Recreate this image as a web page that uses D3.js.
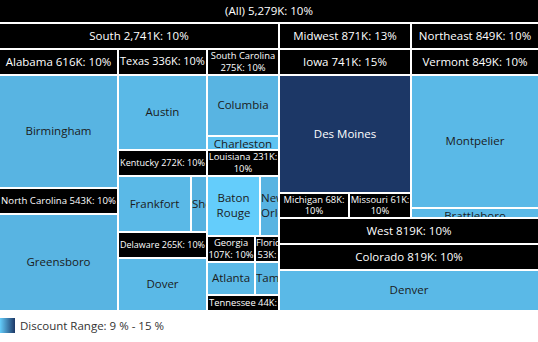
<!DOCTYPE html>
<html>
<head>
<meta charset="utf-8">
<script src="https://cdnjs.cloudflare.com/ajax/libs/d3/7.8.5/d3.min.js"></script>
<style>
  body { margin: 0; background: #fff; }
  text { font-family: "Open Sans", sans-serif; }
</style>
</head>
<body>
<div id="chart"></div>
<script>
// values (sales in K, discount in %)
var allSales = 5279;
var allDiscount = 10;

var regions = ["South", "Midwest", "Northeast", "West"];
var regionSales = [2741, 871, 849, 819];
var regionDiscount = [10, 13, 10, 10];

var states = ["Alabama", "North Carolina", "Texas", "South Carolina", "Kentucky", "Delaware",
              "Louisiana", "Georgia", "Florida", "Tennessee", "Iowa", "Michigan", "Missouri",
              "Vermont", "Colorado"];
var stateRegion = ["South", "South", "South", "South", "South", "South",
                   "South", "South", "South", "South", "Midwest", "Midwest", "Midwest",
                   "Northeast", "West"];
var stateSales = [616, 543, 336, 275, 272, 265, 231, 107, 53, 44, 741, 68, 61, 849, 819];
var stateDiscount = [10, 10, 10, 10, 10, 10, 10, 10, 10, 10, 15, 10, 10, 10, 10];

var cities = ["Birmingham", "Greensboro", "Austin", "Columbia", "Charleston", "Frankfort",
              "Shelbyville", "Dover", "Baton Rouge", "New Orleans", "Atlanta", "Tampa",
              "Des Moines", "Montpelier", "Brattleboro", "Denver"];
var cityState = ["Alabama", "North Carolina", "Texas", "South Carolina", "South Carolina", "Kentucky",
                 "Kentucky", "Delaware", "Louisiana", "Louisiana", "Georgia", "Florida",
                 "Iowa", "Vermont", "Vermont", "Colorado"];
var citySales = [616, 543, 336, 223, 52, 223, 49, 265, 168, 63, 107, 53, 741, 789, 60, 819];
var cityDiscount = [10.0, 10.0, 9.8, 10.0, 9.4, 9.8, 10.1, 9.8, 9.0, 10.0, 9.8, 10.0, 15.0, 9.8, 9.8, 9.8];

var discountRange = [9, 15];

function init() {
    var w = 538;
    var h = 310;

    var svg = d3.select("#chart")
        .append("svg")
        .attr("width", 538)
        .attr("height", 342);

    // build the tree from the arrays
    var tree = {name: "(All)", sales: allSales, discount: allDiscount, children: []};
    regions.forEach(function(r, i) {
        var reg = {name: r, sales: regionSales[i], discount: regionDiscount[i], children: []};
        states.forEach(function(s, j) {
            if (stateRegion[j] != r) return;
            var st = {name: s, sales: stateSales[j], discount: stateDiscount[j]};
            var kids = [];
            cities.forEach(function(c, k) {
                if (cityState[k] == s) kids.push({name: c, sales: citySales[k], discount: cityDiscount[k], city: true});
            });
            if (kids.length) st.children = kids;
            reg.children.push(st);
        });
        tree.children.push(reg);
    });

    var root = d3.hierarchy(tree)
        .sum(function(d) { return d.children ? 0 : d.sales; })
        .sort(function(a, b) { return b.value - a.value; });

    var headerH = [22, 24, 24];

    d3.treemap()
        .size([w, h])
        .tile(d3.treemapSquarify.ratio(1.3))
        .paddingTop(function(d) { return headerH[d.depth] + 2; })
        .paddingInner(2)
        .round(true)(root);

    var color = d3.scaleLinear()
        .domain(discountRange)
        .range(["#64cdfb", "#1c3766"]);

    // hidden text used to measure label widths
    var meas = svg.append("text").attr("x", -1000).attr("y", -1000);
    function textW(s, fs) {
        meas.attr("font-size", fs).text(s);
        return meas.node().getComputedTextLength();
    }
    function wrap(s, width, fs) {
        var words = s.split(" ");
        var lines = [];
        var cur = "";
        words.forEach(function(wd) {
            var t = cur ? cur + " " + wd : wd;
            if (cur && textW(t, fs) > width) {
                lines.push(cur);
                cur = wd;
            } else {
                cur = t;
            }
        });
        if (cur) lines.push(cur);
        return lines;
    }

    function label(d) {
        if (d.data.city) return d.data.name;
        return d.data.name + " " + d3.format(",")(d.data.sales) + "K: " + d.data.discount + "%";
    }

    var nodes = root.descendants();
    nodes.forEach(function(d, i) {
        var bw = d.x1 - d.x0;
        var bh = d.y1 - d.y0;
        if (bw <= 0 || bh <= 0) return;
        var isCity = d.data.city;
        var rh = isCity ? bh : Math.min(headerH[d.depth], bh);
        var fill = isCity ? color(d.data.discount) : "#000";
        var txtFill = isCity ? (d.data.discount > 12 ? "#fff" : "#1b1b1b") : "#fff";

        svg.append("rect")
            .attr("x", d.x0)
            .attr("y", d.y0)
            .attr("width", bw)
            .attr("height", rh)
            .attr("fill", fill);

        svg.append("clipPath")
            .attr("id", "clip" + i)
            .append("rect")
            .attr("x", d.x0)
            .attr("y", d.y0)
            .attr("width", bw)
            .attr("height", rh);

        // fit the label: shrink headers a bit, else wrap
        var s = label(d);
        var fs = 11.5;
        var lines;
        var tw = textW(s, fs);
        if (tw <= bw - 2) {
            lines = [s];
        } else if (!isCity && fs * (bw - 2) / tw >= 8.8) {
            fs = fs * (bw - 2) / tw;
            lines = [s];
        } else {
            if (!isCity) fs = 9.4;
            lines = wrap(s, isCity ? bw - 2 : bw + 1, fs);
        }
        var lh = isCity ? fs * 1.3 : fs * 1.2;
        var blockH = lines.length * lh;
        var top;
        if (blockH <= rh) top = d.y0 + (rh - blockH) / 2;
        else if (isCity) top = d.y0;
        else top = d.y0 + (rh - lh * Math.max(1, Math.floor((rh + 4) / lh))) / 2;

        var g = svg.append("g").attr("clip-path", "url(#clip" + i + ")");
        lines.forEach(function(ln, k) {
            var base = top + k * lh + lh * 0.76;
            if (base - fs * 0.72 > d.y0 + rh) return; // fully hidden line
            var lw = textW(ln, fs);
            var fits = lw <= bw;
            g.append("text")
                .text(ln)
                .attr("x", fits ? (d.x0 + d.x1) / 2 : d.x0)
                .attr("y", base)
                .attr("text-anchor", fits ? "middle" : "start")
                .attr("font-size", fs)
                .attr("fill", txtFill);
        });
    });
    meas.remove();

    // legend
    var grad = svg.append("defs").append("linearGradient").attr("id", "legGrad");
    grad.append("stop").attr("offset", "0%").attr("stop-color", color(discountRange[0]));
    grad.append("stop").attr("offset", "100%").attr("stop-color", color(discountRange[1]));

    svg.append("rect")
        .attr("x", 0)
        .attr("y", 318)
        .attr("width", 15)
        .attr("height", 15)
        .attr("fill", "url(#legGrad)");

    svg.append("text")
        .text("Discount Range: " + discountRange[0] + " % - " + discountRange[1] + " %")
        .attr("x", 20)
        .attr("y", 330)
        .attr("font-size", 11.5)
        .attr("fill", "#333");
}
window.onload = init;
</script>
</body>
</html>
